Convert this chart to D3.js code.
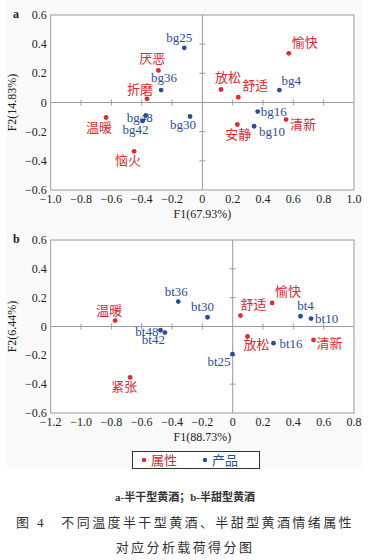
<!DOCTYPE html>
<html><head><meta charset="utf-8">
<script src="https://cdn.jsdelivr.net/npm/d3@7"></script>
<style>
html,body{margin:0;padding:0;background:#fff;}
svg{display:block;}
text{font-family:"Liberation Serif","Noto Sans CJK SC",serif;}
</style></head>
<body>
<svg id="c" width="370" height="560"></svg>
<script>
// ---- data: chart a (半干型黄酒) ----
const aAttrNames = ["愉快","厌恶","折磨","放松","舒适","清新","温暖","安静","恼火"];
const aAttrF1    = [0.57, -0.29, -0.365, 0.123, 0.237, 0.552, -0.635, 0.231, -0.45];
const aAttrF2    = [0.337, 0.22, 0.025, 0.089, 0.036, -0.117, -0.103, -0.151, -0.335];
const aProdNames = ["bg25","bg36","bg4","bg16","bg48","bg42","bg30","bg10"];
const aProdF1    = [-0.119, -0.272, 0.508, 0.365, -0.373, -0.395, -0.081, 0.341];
const aProdF2    = [0.375, 0.085, 0.085, -0.062, -0.089, -0.126, -0.096, -0.163];
// ---- data: chart b (半甜型黄酒) ----
const bAttrNames = ["温暖","舒适","愉快","放松","清新","紧张"];
const bAttrF1    = [-0.775, 0.051, 0.26, 0.098, 0.533, -0.676];
const bAttrF2    = [0.041, 0.076, 0.163, -0.069, -0.093, -0.353];
const bProdNames = ["bt36","bt30","bt4","bt10","bt48","bt42","bt16","bt25"];
const bProdF1    = [-0.359, -0.166, 0.447, 0.517, -0.476, -0.447, 0.269, -0.001];
const bProdF2    = [0.173, 0.064, 0.071, 0.055, -0.026, -0.042, -0.116, -0.192];
// ---- axis ticks / titles ----
const aXTicks = [-1.0,-0.8,-0.6,-0.4,-0.2,0,0.2,0.4,0.6,0.8,1.0];
const bXTicks = [-1.2,-1.0,-0.8,-0.6,-0.4,-0.2,0,0.2,0.4,0.6,0.8];
const yTicks  = [-0.6,-0.4,-0.2,0,0.2,0.4,0.6];
const aXTitle = "F1(67.93%)", aYTitle = "F2(14.83%)";
const bXTitle = "F1(88.73%)", bYTitle = "F2(6.44%)";
const legendLabels = ["属性","产品"];
const captionSub = "a-半干型黄酒；b-半甜型黄酒";
const captionL1 = "图 4　不同温度半干型黄酒、半甜型黄酒情绪属性";
const captionL2 = "对应分析载荷得分图";

// ---- layout (label placement: [anchor, dx, dy]) ----
const labelPosA = {
  "bg25":["middle",-5,-6],"愉快":["start",3,-6],"厌恶":["middle",-6,-7],"bg36":["middle",3,-8],
  "折磨":["middle",-7,-5],"放松":["middle",7,-8],"舒适":["start",4,-7],"bg4":["start",2,-5],
  "bg16":["start",3,4],"清新":["start",4,9],"温暖":["middle",-7,14],"bg48":["middle",-6,7],
  "bg42":["middle",-7,13],"bg30":["middle",-7,12],"安静":["middle",1,14],"bg10":["start",5,10],
  "恼火":["middle",-6,14]
};
const labelPosB = {
  "bt36":["middle",-2,-6],"bt30":["middle",-5,-6],"温暖":["middle",-6,-6],"舒适":["start",0,-7],
  "愉快":["start",3,-7],"bt4":["middle",5,-6],"bt10":["start",4,4],"bt48":["end",-2,6],
  "bt42":["end",0,11],"放松":["start",-4,13],"bt16":["start",6,5],"清新":["start",3,8],
  "bt25":["end",-2,12],"紧张":["middle",-6,14]
};
const RED = "#e0282e", BLUE = "#2b4c9b", GREY = "#9a9a9a";

const svg = d3.select("#c");
svg.append("rect").attr("x",7).attr("y",0).attr("width",355).attr("height",468).attr("fill","#fafafa");

function fmt(v){ if (Math.abs(v)<1e-9) return "0"; return (v<0?"\u2212":"") + Math.abs(v).toFixed(1); }

function panel(opt){
  const {x0,x1,y0,y1,xDom,xTicks,tag,xTitle,yTitle,attrN,attrX,attrY,prodN,prodX,prodY,lp} = opt;
  const x = d3.scaleLinear().domain(xDom).range([x0,x1]);
  const y = d3.scaleLinear().domain([-0.6,0.6]).range([y1,y0]);
  const g = svg.append("g");
  g.append("rect").attr("x",x0).attr("y",y0).attr("width",x1-x0).attr("height",y1-y0)
    .attr("fill","#fff").attr("stroke",GREY).attr("stroke-width",1);
  // zero lines
  g.append("line").attr("x1",x0).attr("x2",x1).attr("y1",y(0)).attr("y2",y(0)).attr("stroke",GREY);
  g.append("line").attr("x1",x(0)).attr("x2",x(0)).attr("y1",y0).attr("y2",y1).attr("stroke",GREY);
  // tick marks on zero lines
  xTicks.filter((t,i)=>i>0 && i<xTicks.length-1 && Math.abs(t)>1e-9).forEach(t=>{
    g.append("line").attr("x1",x(t)).attr("x2",x(t)).attr("y1",y(0)-3).attr("y2",y(0)+3).attr("stroke",GREY);
  });
  yTicks.filter((t,i)=>i>0 && i<yTicks.length-1 && Math.abs(t)>1e-9).forEach(t=>{
    g.append("line").attr("x1",x(0)-3).attr("x2",x(0)+3).attr("y1",y(t)).attr("y2",y(t)).attr("stroke",GREY);
  });
  // tick labels
  xTicks.forEach(t=>{
    g.append("text").attr("x",x(t)).attr("y",y1+13).attr("text-anchor","middle")
      .attr("font-size",12).attr("fill","#222").text(fmt(t));
  });
  yTicks.forEach(t=>{
    g.append("text").attr("x",x0-4).attr("y",y(t)+4).attr("text-anchor","end")
      .attr("font-size",12).attr("fill","#222").text(fmt(t));
  });
  g.append("text").attr("x",(x0+x1)/2).attr("y",y1+28).attr("text-anchor","middle")
    .attr("font-size",12).attr("fill","#222").text(xTitle);
  g.append("text").attr("transform",`translate(16,${(y0+y1)/2}) rotate(-90)`).attr("text-anchor","middle")
    .attr("font-size",12).attr("fill","#222").text(yTitle);
  g.append("text").attr("x",13).attr("y",y0+3).attr("font-size",12).attr("font-weight","bold")
    .attr("fill","#222").text(tag);
  // points
  function series(names,xs,ys,color){
    names.forEach((n,i)=>{
      const px = x(xs[i]), py = y(ys[i]);
      g.append("circle").attr("cx",px).attr("cy",py).attr("r",2.4).attr("fill",color);
      const p = lp[n] || ["start",3,-4];
      g.append("text").attr("x",px+p[1]).attr("y",py+p[2]).attr("text-anchor",p[0])
        .attr("font-size",13).attr("fill",color).text(n);
    });
  }
  series(attrN,attrX,attrY,RED);
  series(prodN,prodX,prodY,BLUE);
}

panel({x0:50.7,x1:354,y0:15,y1:190,xDom:[-1,1],xTicks:aXTicks,tag:"a",xTitle:aXTitle,yTitle:aYTitle,
  attrN:aAttrNames,attrX:aAttrF1,attrY:aAttrF2,prodN:aProdNames,prodX:aProdF1,prodY:aProdF2,lp:labelPosA});
panel({x0:50.7,x1:354,y0:240,y1:413,xDom:[-1.2,0.8],xTicks:bXTicks,tag:"b",xTitle:bXTitle,yTitle:bYTitle,
  attrN:bAttrNames,attrX:bAttrF1,attrY:bAttrF2,prodN:bProdNames,prodX:bProdF1,prodY:bProdF2,lp:labelPosB});

// legend
const lg = svg.append("g");
lg.append("rect").attr("x",132.5).attr("y",451.5).attr("width",127).attr("height",17)
  .attr("fill","#fff").attr("stroke","#333").attr("stroke-width",1);
[[RED,144,legendLabels[0]],[BLUE,205,legendLabels[1]]].forEach(([c,cx,t])=>{
  lg.append("circle").attr("cx",cx).attr("cy",460).attr("r",2.2).attr("fill",c);
  lg.append("text").attr("x",cx+7).attr("y",465).attr("font-size",13).attr("fill",c).text(t);
});

// captions
svg.append("text").attr("x",185).attr("y",501).attr("text-anchor","middle").attr("font-size",11)
  .attr("font-weight","bold").attr("fill","#333").text(captionSub);
svg.append("text").attr("x",185).attr("y",527).attr("text-anchor","middle").attr("font-size",13)
  .attr("letter-spacing",2.4).attr("fill","#333").text(captionL1);
svg.append("text").attr("x",185).attr("y",552).attr("text-anchor","middle").attr("font-size",13)
  .attr("letter-spacing",2.4).attr("fill","#333").text(captionL2);
</script>
</body></html>
